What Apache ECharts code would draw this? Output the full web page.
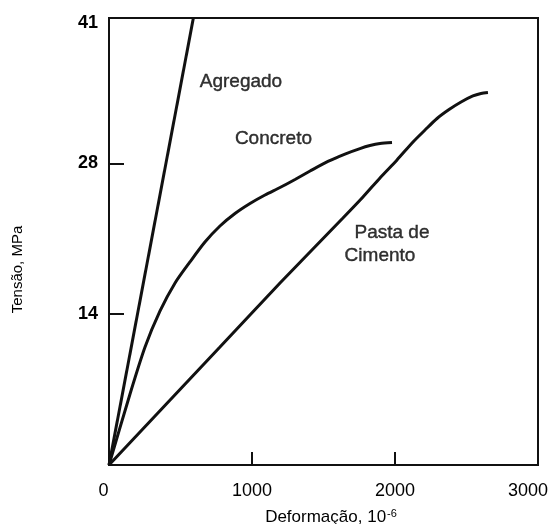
<!DOCTYPE html>
<html>
<head>
<meta charset="utf-8">
<script src="https://cdn.jsdelivr.net/npm/echarts@6/dist/echarts.min.js"></script>
<style>
  html, body { margin: 0; padding: 0; background: #fff; }
  #chart { width: 551px; height: 524px; }
</style>
</head>
<body>
<div id="chart"></div>
<script>
// Stress–strain curves: aggregate, concrete and cement paste
const agregadoStrain = [0, 590];
const agregadoStress = [0, 41.5];

const concretoStrain = [0, 147, 252, 357, 462, 566, 671, 776, 881, 986, 1091, 1196, 1301, 1406, 1531, 1650, 1755, 1825, 1895, 1979];
const concretoStress = [0, 6.59, 10.95, 14.30, 16.90, 18.85, 20.70, 22.19, 23.35, 24.28, 25.07, 25.76, 26.51, 27.29, 28.18, 28.87, 29.38, 29.66, 29.85, 29.94];

const pastaStrain = [0, 776, 1196, 1636, 1776, 1895, 2014, 2126, 2210, 2294, 2378, 2462, 2545, 2601, 2650];
const pastaStress = [0, 10.96, 16.90, 22.93, 24.88, 26.65, 28.32, 29.99, 31.10, 32.17, 33.00, 33.70, 34.26, 34.49, 34.58];

const yLabelValues = [14, 28, 41];
const yTickValues = [14, 28];
const xTickValues = [0, 1000, 2000, 3000];

// curve captions placed in data space
const captionText = ['Agregado', 'Concreto', 'Pasta de', 'Cimento'];
const captionStrain = [923, 1150, 1979, 1895];
const captionStress = [35.6, 30.3, 21.6, 19.4];

const pairs = (xs, ys) => xs.map((x, i) => [x, ys[i]]);
const INK = '#000';
const FONT = 'Liberation Sans, Arial, sans-serif';

const chart = echarts.init(document.getElementById('chart'), null, { renderer: 'canvas' });

const curve = (name, data, smooth) => ({
  name, type: 'line', data, smooth, showSymbol: false, symbol: 'none',
  lineStyle: { color: '#111', width: 3 }, z: 3, silent: true
});

chart.setOption({
  backgroundColor: '#fff',
  animation: false,
  grid: {
    left: 109, right: 13, top: 18, bottom: 59, outerBoundsMode: 'none', containLabel: false,
    show: true, borderColor: '#111', borderWidth: 2, backgroundColor: 'transparent'
  },
  xAxis: {
    type: 'value', min: 0, max: 3000, interval: 1000,
    name: 'Deformação, 10{sup|-6}',
    nameLocation: 'middle', nameGap: 43,
    nameTextStyle: {
      color: INK, fontFamily: FONT, fontSize: 17, padding: [0, 0, 0, 15],
      rich: { sup: { fontSize: 11, fontFamily: FONT, color: INK, verticalAlign: 'top', padding: [0, 0, 8, 1] } }
    },
    axisLine: { lineStyle: { color: '#111', width: 2 } },
    axisTick: { inside: true, length: 13, lineStyle: { color: '#111', width: 2 } },
    splitLine: { show: false },
    axisLabel: {
      margin: 17, color: INK, fontFamily: FONT, fontSize: 18,
      customValues: xTickValues,
      formatter: v => v === 0 ? '{l|0}' : (v === 3000 ? '{r|3000}' : String(v)),
      rich: {
        l: { fontSize: 18, fontFamily: FONT, color: INK, padding: [0, 11, 0, 0] },
        r: { fontSize: 18, fontFamily: FONT, color: INK, padding: [0, 20, 0, 0] }
      }
    }
  },
  yAxis: {
    type: 'value', min: 0, max: 41.5,
    name: 'Tensão, MPa',
    nameLocation: 'middle', nameGap: 84, nameRotate: 90,
    nameTextStyle: { color: INK, fontFamily: FONT, fontSize: 15, padding: [0, 56, 0, 0] },
    axisLine: { lineStyle: { color: '#111', width: 2 } },
    axisTick: { inside: true, length: 15, customValues: yTickValues, lineStyle: { color: '#111', width: 2 } },
    splitLine: { show: false },
    axisLabel: { customValues: yLabelValues, margin: 11, color: INK, fontFamily: FONT, fontSize: 18, fontWeight: 'bold' }
  },
  series: [
    curve('Agregado', pairs(agregadoStrain, agregadoStress), false),
    curve('Concreto', pairs(concretoStrain, concretoStress), 0.25),
    curve('Pasta de Cimento', pairs(pastaStrain, pastaStress), 0.25),
    {
      name: 'captions', type: 'scatter', symbolSize: 0, silent: true,
      data: captionText.map((t, i) => ({ value: [captionStrain[i], captionStress[i]], name: t })),
      label: {
        show: true, position: 'inside', formatter: p => p.name,
        color: INK, textBorderColor: INK, textBorderWidth: 0.4, fontFamily: FONT, fontSize: 19
      }
    }
  ]
});
</script>
</body>
</html>
